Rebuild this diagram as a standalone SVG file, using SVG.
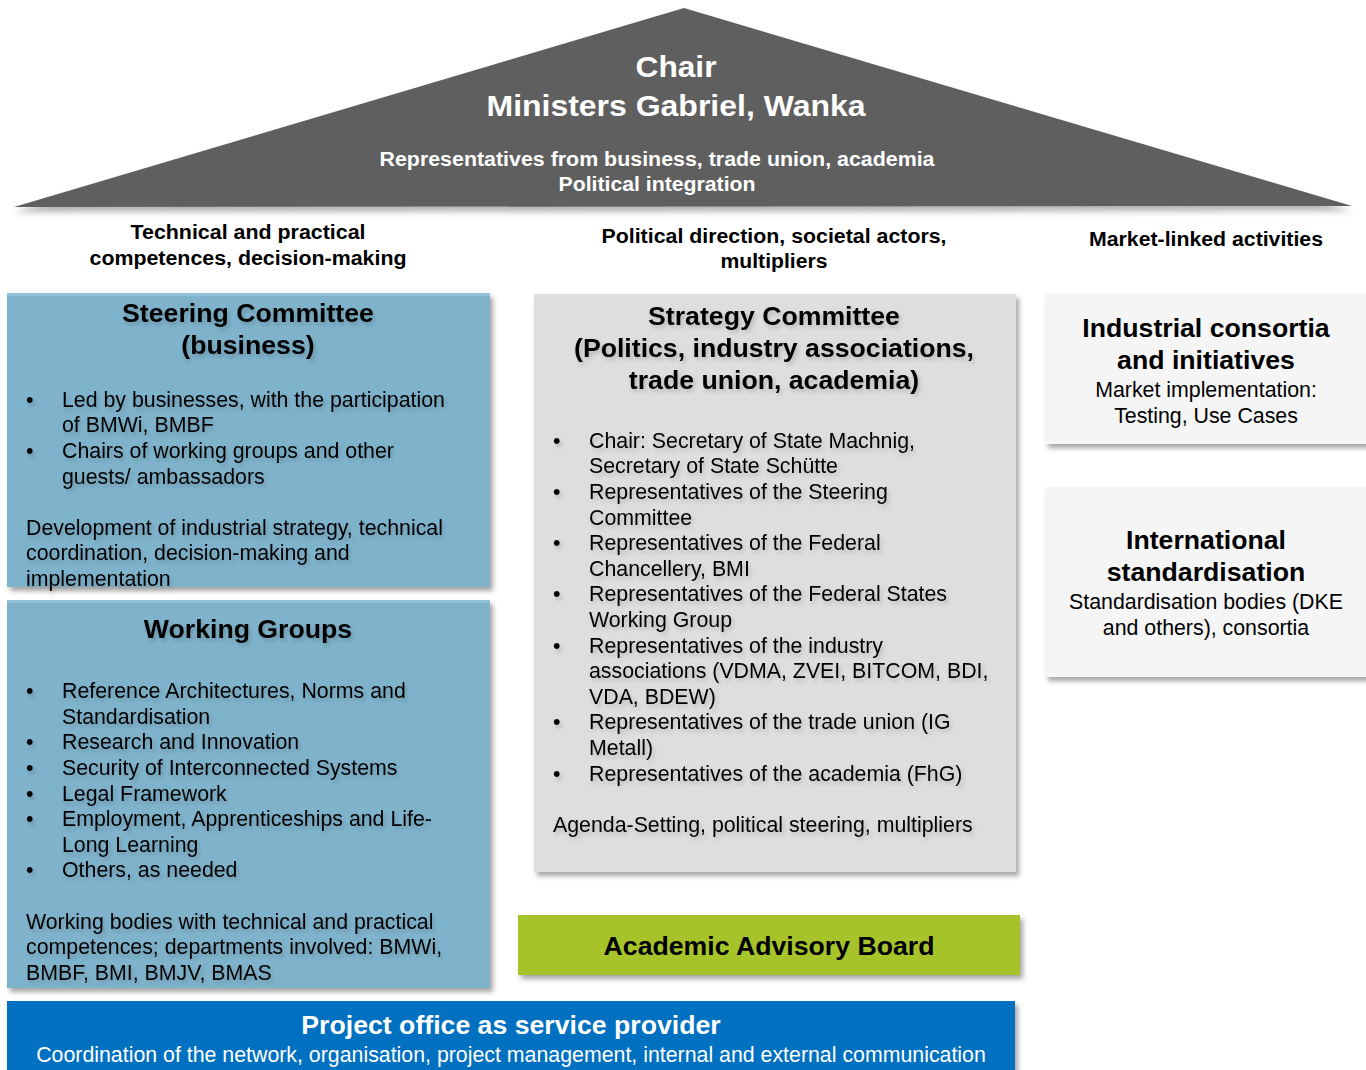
<svg xmlns="http://www.w3.org/2000/svg" width="1366" height="1070" viewBox="0 0 1366 1070">
<defs>
<filter id="sh" x="-5%" y="-5%" width="115%" height="120%">
<feDropShadow dx="3" dy="4" stdDeviation="2.5" flood-color="#000" flood-opacity="0.35"/>
</filter>
<filter id="tsh" x="-5%" y="-5%" width="110%" height="130%">
<feDropShadow dx="0" dy="5" stdDeviation="3" flood-color="#000" flood-opacity="0.3"/>
</filter>
<filter id="glow" x="-5%" y="-20%" width="110%" height="150%">
<feDropShadow dx="2" dy="3" stdDeviation="2" flood-color="#000" flood-opacity="0.18"/>
</filter>
</defs>
<style>
text{font-family:"Liberation Sans",Arial,sans-serif;fill:#000}
.w{fill:#fff}
.b{font-weight:bold}
.t25{font-size:26.67px;font-weight:bold}
.t20{font-size:21.33px}
.c{text-anchor:middle}
</style>
<rect width="1366" height="1070" fill="#fff"/>

<g id="chair">
<polygon points="684,8 14,207 1352,206" fill="#5f5f5f" filter="url(#tsh)"/>
<text class="w b c" x="676" y="77" font-size="30" textLength="81" lengthAdjust="spacingAndGlyphs">Chair</text>
<text class="w b c" x="676" y="116" font-size="30" textLength="379" lengthAdjust="spacingAndGlyphs">Ministers Gabriel, Wanka</text>
<text class="w b c" x="657" y="166" font-size="20" textLength="555" lengthAdjust="spacingAndGlyphs">Representatives from business, trade union, academia</text>
<text class="w b c" x="657" y="191" font-size="20" textLength="197" lengthAdjust="spacingAndGlyphs">Political integration</text>
</g>

<g id="headers">
<text class="b c" x="248" y="239" font-size="20" textLength="235" lengthAdjust="spacingAndGlyphs">Technical and practical</text>
<text class="b c" x="248" y="265" font-size="20" textLength="317" lengthAdjust="spacingAndGlyphs">competences, decision-making</text>
<text class="b c" x="774" y="243" font-size="20" textLength="345" lengthAdjust="spacingAndGlyphs">Political direction, societal actors,</text>
<text class="b c" x="774" y="268" font-size="20" textLength="107" lengthAdjust="spacingAndGlyphs">multipliers</text>
<text class="b c" x="1206" y="246" font-size="20" textLength="234" lengthAdjust="spacingAndGlyphs">Market-linked activities</text>
</g>

<g id="steering">
<rect x="7" y="293" width="483" height="294" fill="#7fb3cc" filter="url(#sh)"/>
<rect x="7" y="293" width="483" height="3" fill="#93c2d8"/>
<g filter="url(#glow)">
<text class="t25 c" x="248" y="322">Steering Committee</text>
<text class="t25 c" x="248" y="354">(business)</text>
<text class="t20" x="26" y="407">•</text>
<text class="t20" x="62" y="407">Led by businesses, with the participation</text>
<text class="t20" x="62" y="432">of BMWi, BMBF</text>
<text class="t20" x="26" y="458">•</text>
<text class="t20" x="62" y="458">Chairs of working groups and other</text>
<text class="t20" x="62" y="484">guests/ ambassadors</text>
<text class="t20" x="26" y="535">Development of industrial strategy, technical</text>
<text class="t20" x="26" y="560">coordination, decision-making and</text>
<text class="t20" x="26" y="586">implementation</text>
</g>
</g>

<g id="working-groups">
<rect x="7" y="600" width="483" height="388" fill="#7fb3cc" filter="url(#sh)"/>
<rect x="7" y="600" width="483" height="3" fill="#93c2d8"/>
<g filter="url(#glow)">
<text class="t25 c" x="248" y="638">Working Groups</text>
<text class="t20" x="26" y="698">•</text>
<text class="t20" x="62" y="698">Reference Architectures, Norms and</text>
<text class="t20" x="62" y="724">Standardisation</text>
<text class="t20" x="26" y="749">•</text>
<text class="t20" x="62" y="749">Research and Innovation</text>
<text class="t20" x="26" y="775">•</text>
<text class="t20" x="62" y="775">Security of Interconnected Systems</text>
<text class="t20" x="26" y="801">•</text>
<text class="t20" x="62" y="801">Legal Framework</text>
<text class="t20" x="26" y="826">•</text>
<text class="t20" x="62" y="826">Employment, Apprenticeships and Life-</text>
<text class="t20" x="62" y="852">Long Learning</text>
<text class="t20" x="26" y="877">•</text>
<text class="t20" x="62" y="877">Others, as needed</text>
<text class="t20" x="26" y="929">Working bodies with technical and practical</text>
<text class="t20" x="26" y="954">competences; departments involved: BMWi,</text>
<text class="t20" x="26" y="980">BMBF, BMI, BMJV, BMAS</text>
</g>
</g>

<g id="strategy">
<rect x="534" y="294" width="482" height="578" fill="#dedede" filter="url(#sh)"/>
<g filter="url(#glow)">
<text class="t25 c" x="774" y="325">Strategy Committee</text>
<text class="t25 c" x="774" y="357">(Politics, industry associations,</text>
<text class="t25 c" x="774" y="389">trade union, academia)</text>
<text class="t20" x="553" y="448">•</text>
<text class="t20" x="589" y="448">Chair: Secretary of State Machnig,</text>
<text class="t20" x="589" y="473">Secretary of State Schütte</text>
<text class="t20" x="553" y="499">•</text>
<text class="t20" x="589" y="499">Representatives of the Steering</text>
<text class="t20" x="589" y="525">Committee</text>
<text class="t20" x="553" y="550">•</text>
<text class="t20" x="589" y="550">Representatives of the Federal</text>
<text class="t20" x="589" y="576">Chancellery, BMI</text>
<text class="t20" x="553" y="601">•</text>
<text class="t20" x="589" y="601">Representatives of the Federal States</text>
<text class="t20" x="589" y="627">Working Group</text>
<text class="t20" x="553" y="653">•</text>
<text class="t20" x="589" y="653">Representatives of the industry</text>
<text class="t20" x="589" y="678">associations (VDMA, ZVEI, BITCOM, BDI,</text>
<text class="t20" x="589" y="704">VDA, BDEW)</text>
<text class="t20" x="553" y="729">•</text>
<text class="t20" x="589" y="729">Representatives of the trade union (IG</text>
<text class="t20" x="589" y="755">Metall)</text>
<text class="t20" x="553" y="781">•</text>
<text class="t20" x="589" y="781">Representatives of the academia (FhG)</text>
<text class="t20" x="553" y="832">Agenda-Setting, political steering, multipliers</text>
</g>
</g>

<g id="advisory">
<rect x="518" y="915" width="502" height="60" fill="#a6c42a" filter="url(#sh)"/>
<text class="c b" x="769" y="955" font-size="26.67">Academic Advisory Board</text>
</g>

<g id="project-office">
<rect x="7" y="1001" width="1008" height="75" fill="#0070c0" filter="url(#sh)"/>
<text class="t25 c w" x="511" y="1034">Project office as service provider</text>
<text class="t20 c w" x="511" y="1062">Coordination of the network, organisation, project management, internal and external communication</text>
</g>

<g id="consortia">
<rect x="1045" y="294" width="330" height="150" fill="#f5f5f5" filter="url(#sh)"/>
<text class="t25 c" x="1206" y="337">Industrial consortia</text>
<text class="t25 c" x="1206" y="369">and initiatives</text>
<text class="t20 c" x="1206" y="397">Market implementation:</text>
<text class="t20 c" x="1206" y="423">Testing, Use Cases</text>
</g>

<g id="standardisation">
<rect x="1045" y="487" width="330" height="190" fill="#f5f5f5" filter="url(#sh)"/>
<text class="t25 c" x="1206" y="549">International</text>
<text class="t25 c" x="1206" y="581">standardisation</text>
<text class="t20 c" x="1206" y="609">Standardisation bodies (DKE</text>
<text class="t20 c" x="1206" y="635">and others), consortia</text>
</g>

<g id="connectors"></g>
</svg>
